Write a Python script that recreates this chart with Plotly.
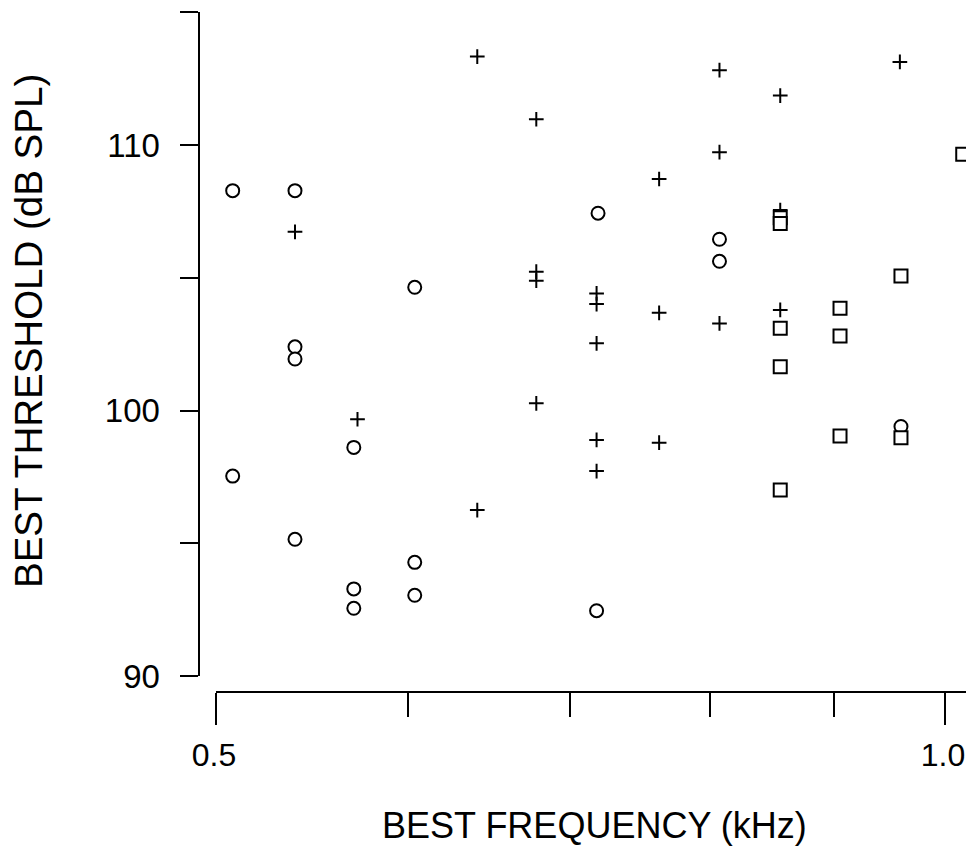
import math
import plotly.graph_objects as go

W, H = 966, 866

# ---- data ----
circle_freq = [0.508, 0.539, 0.508, 0.539, 0.539, 0.539, 0.570, 0.570, 0.570,
               0.604, 0.604, 0.604, 0.719, 0.718, 0.807, 0.807, 0.959]
circle_thr = [108.28, 108.28, 97.53, 102.40, 101.94, 95.15, 98.61, 93.28, 92.55,
              104.64, 94.28, 93.04, 107.43, 92.46, 106.45, 105.62, 99.40]

plus_freq = [0.539, 0.572, 0.641, 0.641, 0.678, 0.678, 0.678, 0.678,
             0.718, 0.718, 0.718, 0.718, 0.718, 0.762, 0.762, 0.762,
             0.807, 0.807, 0.807, 0.855, 0.855, 0.855, 0.958]
plus_thr = [106.73, 99.67, 113.33, 96.25, 110.97, 105.23, 104.89, 100.27,
            104.41, 104.01, 102.53, 98.89, 97.72, 108.72, 103.68, 98.79,
            112.82, 109.73, 103.28, 111.86, 107.55, 103.79, 113.13]

square_freq = [0.855, 0.855, 0.855, 0.855, 0.855, 0.905, 0.905, 0.905,
               0.959, 0.959, 1.017]
square_thr = [107.26, 107.04, 103.10, 101.65, 97.01, 103.85, 102.81, 99.04,
              105.07, 98.97, 109.65]

y_tick_vals = [90, 95, 100, 105, 110, 115]
y_tick_text = ["90", "", "100", "", "110", ""]
x_major_vals = [0.5, 1.0]
x_major_text = ["0.5", "1.0"]
x_minor_vals = [0.6, 0.7, 0.8, 0.9]

x_title = "BEST FREQUENCY (kHz)"
y_title = "BEST THRESHOLD (dB SPL)"

FONT = "Liberation Sans, Arial, Helvetica, sans-serif"

fig = go.Figure()
fig.add_trace(go.Scatter(
    x=plus_freq, y=plus_thr, mode="markers", showlegend=False,
    marker=dict(symbol="cross-thin", size=10.5, color="black",
                line=dict(color="black", width=2))))
fig.add_trace(go.Scatter(
    x=circle_freq, y=circle_thr, mode="markers", showlegend=False,
    marker=dict(symbol="circle", size=13, color="white",
                line=dict(color="black", width=2))))
fig.add_trace(go.Scatter(
    x=square_freq, y=square_thr, mode="markers", showlegend=False,
    marker=dict(symbol="square", size=13, color="white",
                line=dict(color="black", width=2))))

x0 = math.log10(0.5)
x1 = x0 + (750.0 / 729.0) * math.log10(2)

fig.update_layout(
    template="none",
    width=W, height=H,
    margin=dict(l=0, r=0, t=0, b=0, pad=0),
    paper_bgcolor="white", plot_bgcolor="white",
    font=dict(family=FONT, color="black"),
    xaxis=dict(
        type="log", domain=[216 / W, 1.0], range=[x0, x1],
        anchor="free", position=1 - 691.5 / H, automargin=False,
        showline=True, linecolor="black", linewidth=2,
        showgrid=False, zeroline=False,
        ticks="outside", ticklen=32, tickwidth=2, tickcolor="black",
        tickmode="array", tickvals=x_major_vals, ticktext=x_major_text,
        tickfont=dict(size=32, family=FONT, color="black"),
        ticklabelstandoff=3, ticklabeloverflow="allow", ticklabelshift=-2,
        minor=dict(tickmode="array", tickvals=x_minor_vals, ticks="outside",
                   ticklen=24, tickwidth=2, tickcolor="black", showgrid=False),
    ),
    yaxis=dict(
        domain=[1 - 676 / H, 1 - 12.25 / H], range=[90, 115],
        anchor="free", position=198.5 / W, automargin=False,
        showline=True, linecolor="black", linewidth=2,
        showgrid=False, zeroline=False,
        ticks="outside", ticklen=18, tickwidth=2, tickcolor="black",
        tickmode="array", tickvals=y_tick_vals, ticktext=y_tick_text,
        tickfont=dict(size=33, family=FONT, color="black"),
        ticklabelstandoff=13, ticklabeloverflow="allow",
    ),
    annotations=[
        dict(text=x_title, x=594 / W, y=1 - 825 / H, xref="paper", yref="paper",
             xanchor="center", yanchor="middle", showarrow=False,
             font=dict(size=36, family=FONT, color="black")),
        dict(text=y_title, x=28 / W, y=1 - 331 / H, xref="paper", yref="paper",
             xanchor="center", yanchor="middle", showarrow=False, textangle=-90,
             font=dict(size=38.5, family=FONT, color="black")),
    ],
)

fig.write_html("out.html")
